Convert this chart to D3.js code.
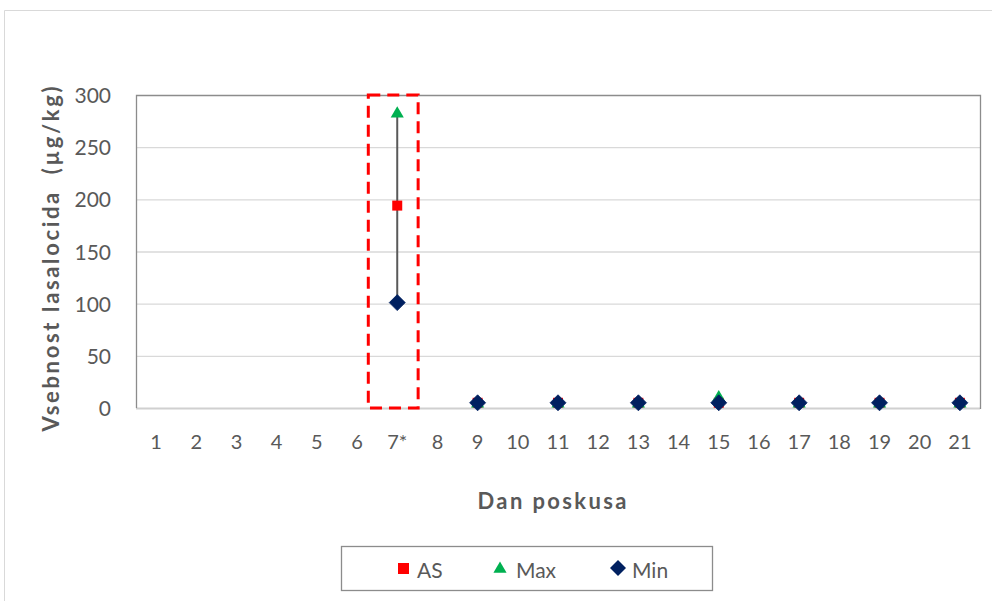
<!DOCTYPE html>
<html><head><meta charset="utf-8">
<script src="https://cdn.jsdelivr.net/npm/d3@7"></script>
<style>body{margin:0;background:#fff}svg{display:block}text{font-family:Lato,"Open Sans",sans-serif}</style>
</head><body><svg id="c" width="992" height="601"></svg>
<script>
const categories = ["1","2","3","4","5","6","7*","8","9","10","11","12","13","14","15","16","17","18","19","20","21"];
const asValues  = [null,null,null,null,null,null,194,null,5,null,5,null,5,null,5,null,5,null,5,null,5];
const maxValues = [null,null,null,null,null,null,283,null,5,null,5,null,5,null,11,null,5,null,5,null,5];
const minValues = [null,null,null,null,null,null,101,null,5,null,5,null,5,null,5,null,5,null,5,null,5];
const yTicks = [0,50,100,150,200,250,300];
const highlight = {from:"6", to:"7*", lo:0, hi:300};

const svg = d3.select("#c");
const L=136,R=980,T=95,B=408;
const x = d3.scaleBand().domain(categories).range([L,R]);
const y = d3.scaleLinear().domain([0,300]).range([B,T]);
const cx = c => x(c)+x.bandwidth()/2;

// outer frame
svg.append("path").attr("d","M4.5,601 V10.5 H992").attr("fill","none").attr("stroke","#d9d9d9").attr("stroke-width",1);

// grid
svg.append("g").selectAll("line").data(yTicks.filter(v=>v>0&&v<300)).join("line")
  .attr("x1",L).attr("x2",R).attr("y1",d=>y(d)+0.5).attr("y2",d=>y(d)+0.5)
  .attr("stroke","#d9d9d9").attr("stroke-width",1.3);
// bottom axis line
svg.append("line").attr("x1",L).attr("x2",R).attr("y1",B+0.5).attr("y2",B+0.5).attr("stroke","#d0d0d0").attr("stroke-width",2);
// plot border top/left/right
svg.append("path").attr("d",`M${L+0.5},${B} V${T+0.5} H${R+0.5} V${B+1}`).attr("fill","none").attr("stroke","#8c8c8c").attr("stroke-width",1.3);

// y ticks
const ya = d3.axisLeft(y).tickValues(yTicks).tickSize(0).tickPadding(0);
const gy = svg.append("g").attr("transform",`translate(${L-25},0)`).call(ya);
gy.select(".domain").remove();
gy.selectAll("text").attr("fill","#595959").style("font-size","21px").attr("dy","0.36em");
// x ticks
const xa = d3.axisBottom(x).tickSize(0).tickPadding(0);
const gx = svg.append("g").attr("transform",`translate(0,${B+34})`).call(xa);
gx.select(".domain").remove();
gx.selectAll("text").attr("fill","#595959").style("font-size","20px").attr("dy","0.36em");

// highlight rect
const hx0 = x(highlight.from)+x.bandwidth()*0.78, hx1 = cx(highlight.to)+x.bandwidth()*0.52;
svg.append("rect").attr("x",hx0).attr("y",y(highlight.hi)).attr("width",hx1-hx0).attr("height",y(highlight.lo)-y(highlight.hi))
  .attr("fill","none").attr("stroke","#ff0000").attr("stroke-width",3).attr("stroke-dasharray","12,7");

// range line
categories.forEach((c,i)=>{
  if(maxValues[i]!=null && minValues[i]!=null && maxValues[i]-minValues[i]>20){
    svg.append("line").attr("x1",cx(c)).attr("x2",cx(c)).attr("y1",y(maxValues[i])).attr("y2",y(minValues[i]))
      .attr("stroke","#595959").attr("stroke-width",2);
  }
});

const pts = (arr)=>categories.map((c,i)=>({c,v:arr[i]})).filter(d=>d.v!=null);
svg.append("g").selectAll("rect").data(pts(asValues)).join("rect")
  .attr("x",d=>cx(d.c)-5).attr("y",d=>y(d.v)-5).attr("width",10).attr("height",10).attr("fill","#ff0000");
const tri = d3.symbol().type(d3.symbolTriangle).size(75);
svg.append("g").selectAll("path").data(pts(maxValues)).join("path")
  .attr("d",tri).attr("transform",d=>`translate(${cx(d.c)},${y(d.v)+1})`).attr("fill","#00b050");
const dia = "M0,-8 L8,0 L0,8 L-8,0 Z";
svg.append("g").selectAll("path").data(pts(minValues)).join("path")
  .attr("d",dia).attr("transform",d=>`translate(${cx(d.c)},${y(d.v)})`).attr("fill","#002060")
  .attr("stroke","#002060").attr("stroke-width",0.8).attr("stroke-linejoin","round");

// axis titles
svg.append("text").attr("x",552).attr("y",509).attr("text-anchor","middle").attr("fill","#595959")
  .attr("textLength",149).attr("lengthAdjust","spacing").style("white-space","pre")
  .style("font-size","22px").style("font-weight","bold").text("Dan poskusa");
svg.append("text").attr("transform","translate(59,259) rotate(-90)").attr("text-anchor","middle").attr("fill","#595959")
  .attr("textLength",345).attr("lengthAdjust","spacing").style("white-space","pre")
  .style("font-size","22px").style("font-weight","bold").text("Vsebnost lasalocida  (µg/kg)");

// legend
svg.append("rect").attr("x",341.5).attr("y",546.5).attr("width",371).attr("height",44).attr("fill","#fff").attr("stroke","#8c8c8c").attr("stroke-width",1.3);
const lg = svg.append("g");
lg.append("rect").attr("x",398).attr("y",563).attr("width",11).attr("height",11).attr("fill","#ff0000");
lg.append("text").attr("x",417).attr("y",578).attr("fill","#595959").style("font-size","21px").text("AS");
lg.append("path").attr("d",tri).attr("transform","translate(500,569)").attr("fill","#00b050");
lg.append("text").attr("x",516).attr("y",578).attr("fill","#595959").style("font-size","21px").text("Max");
lg.append("path").attr("d",dia).attr("transform","translate(618,568)").attr("fill","#002060");
lg.append("text").attr("x",632).attr("y",578).attr("fill","#595959").style("font-size","21px").text("Min");
</script></body></html>
